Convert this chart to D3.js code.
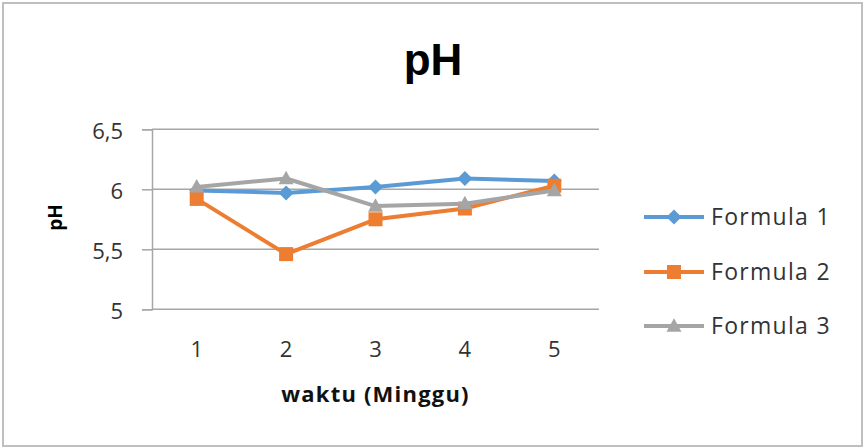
<!DOCTYPE html>
<html><head><meta charset="utf-8">
<script src="https://cdn.jsdelivr.net/npm/d3@7"></script>
<style>
html,body{margin:0;padding:0;background:#fff;}
svg{display:block;}
</style></head>
<body>
<script>
const categories = ["1","2","3","4","5"];
const seriesNames = ["Formula 1","Formula 2","Formula 3"];
const formula1 = [5.99, 5.97, 6.02, 6.09, 6.07];
const formula2 = [5.92, 5.46, 5.75, 5.84, 6.03];
const formula3 = [6.02, 6.09, 5.86, 5.88, 5.99];
const yTicks = [5, 5.5, 6, 6.5];
const colors = ["#5B9BD5","#ED7D31","#A5A5A5"];
const markers = ["diamond","square","triangle"];

const W = 866, H = 448;
const svg = d3.select("body").append("svg").attr("width", W).attr("height", H);
svg.append("rect").attr("x",0).attr("y",0).attr("width",W).attr("height",H).attr("fill","#fff");
svg.append("rect").attr("x",3).attr("y",3).attr("width",859).attr("height",443)
  .attr("fill","#fff").attr("stroke","#BFBFBF").attr("stroke-width",2);

const plot = {left:152, right:599, top:129.3, bottom:309.3};
const x = d3.scaleBand().domain(categories).range([plot.left, plot.right]);
const y = d3.scaleLinear().domain([5, 6.5]).range([plot.bottom, plot.top]);

// gridlines + y ticks
const yAxis = d3.axisLeft(y).tickValues(yTicks).tickSize(10)
  .tickFormat(d => String(d).replace(".", ","));
const gy = svg.append("g").attr("transform", `translate(${plot.left},0)`).call(yAxis);
gy.select(".domain").attr("stroke","#A6A6A6").attr("stroke-width",1.5);
gy.selectAll(".tick line").attr("stroke","#A6A6A6").attr("stroke-width",1.5);
gy.selectAll(".tick text").attr("x",-29).attr("font-family","'Open Sans'").attr("font-size",22)
  .attr("fill","#333").attr("dy","0.42em");
svg.append("g").selectAll("line").data(yTicks).join("line")
  .attr("x1", plot.left).attr("x2", plot.right)
  .attr("y1", d=>y(d)).attr("y2", d=>y(d))
  .attr("stroke","#A6A6A6").attr("stroke-width",1.5);

// x axis labels
const xAxis = d3.axisBottom(x).tickSize(0);
const gx = svg.append("g").attr("transform", `translate(0,${plot.bottom})`).call(xAxis);
gx.select(".domain").remove();
gx.selectAll(".tick text").attr("y",48).attr("dy",0).attr("font-family","'Open Sans'").attr("font-size",22).attr("fill","#333");

// titles
svg.append("text").attr("x",433).attr("y",75).attr("text-anchor","middle")
  .attr("font-family","'Liberation Sans', Arial").attr("font-weight","bold").attr("font-size",44)
  .attr("fill","#000").text("pH");
svg.append("text").attr("transform","translate(62,217.5) rotate(-90)").attr("text-anchor","middle")
  .attr("font-family","'Open Sans'").attr("font-weight","bold").attr("font-size",19)
  .attr("fill","#000").text("pH");
svg.append("text").attr("x",375.5).attr("y",401.5).attr("text-anchor","middle")
  .attr("font-family","'Open Sans'").attr("font-weight","bold").attr("font-size",22)
  .attr("letter-spacing",1.2)
  .attr("fill","#111").text("waktu (Minggu)");

const data = [formula1, formula2, formula3];
const cx = c => x(c) + x.bandwidth()/2;
const line = d3.line().x((d,i)=>cx(categories[i])).y(d=>y(d));

function markerPath(type, size){
  const s = size/2;
  if(type==="diamond") return `M0,${-s}L${s},0L0,${s}L${-s},0Z`;
  if(type==="square") return `M${-s},${-s}H${s}V${s}H${-s}Z`;
  return `M0,${-s*1.05}L${s},${s*0.75}L${-s},${s*0.75}Z`;
}
const mSize = [15, 14, 15];

data.forEach((vals, k) => {
  const g = svg.append("g");
  g.append("path").datum(vals).attr("d", line).attr("fill","none")
    .attr("stroke", colors[k]).attr("stroke-width",4).attr("stroke-linejoin","round");
  g.selectAll("path.m").data(vals).join("path").attr("class","m")
    .attr("transform",(d,i)=>`translate(${cx(categories[i])},${y(d)})`)
    .attr("d", markerPath(markers[k], mSize[k])).attr("fill", colors[k]);
});

// legend
const legY = [217, 272, 326];
const lg = svg.append("g");
seriesNames.forEach((name,k)=>{
  lg.append("line").attr("x1",644).attr("x2",704).attr("y1",legY[k]).attr("y2",legY[k])
    .attr("stroke",colors[k]).attr("stroke-width",4);
  lg.append("path").attr("transform",`translate(674,${legY[k]})`)
    .attr("d", markerPath(markers[k], mSize[k])).attr("fill",colors[k]);
  lg.append("text").attr("x",711).attr("y",legY[k]).attr("dy","0.36em")
    .attr("font-family","'Open Sans'").attr("font-size",23).attr("letter-spacing",1.3)
    .attr("fill","#333").text(name);
});
</script>
</body></html>
